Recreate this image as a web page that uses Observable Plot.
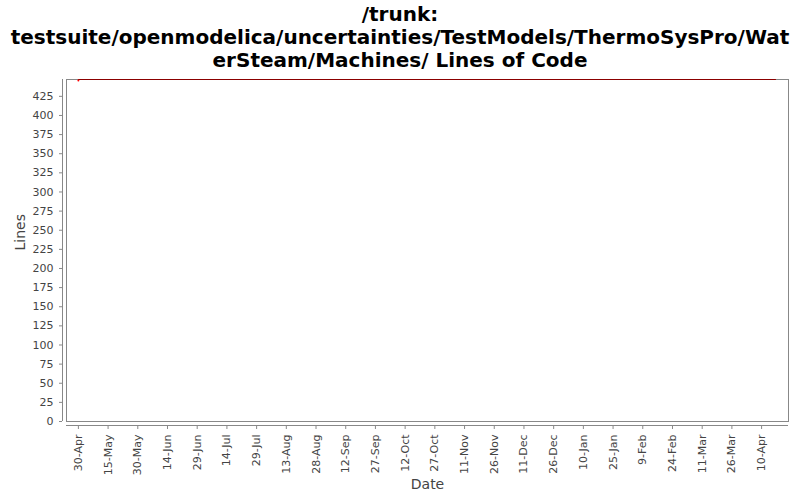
<!DOCTYPE html>
<html>
<head>
<meta charset="utf-8">
<script src="https://cdn.jsdelivr.net/npm/d3@7"></script>
<script src="https://cdn.jsdelivr.net/npm/@observablehq/plot@0.6"></script>
<style>
  body { margin: 0; background: #fff; width: 800px; height: 500px; overflow: hidden; }
  #title { font-family: "DejaVu Sans", sans-serif; font-weight: bold; font-size: 20px; line-height: 23px; text-align: center; color: #000; height: 72px; padding-top: 3px; box-sizing: border-box; white-space: nowrap; }
  #chart svg { display: block; }
</style>
</head>
<body>
<div id="title">/trunk:<br>testsuite/openmodelica/uncertainties/TestModels/ThermoSysPro/Wat<br>erSteam/Machines/ Lines of Code</div>
<div id="chart"></div>
<script>
const dates = ["2010-04-30", "2011-04-17"];
const lines = [447, 447];
const tickDates = ["2010-04-30","2010-05-15","2010-05-30","2010-06-14","2010-06-29","2010-07-14","2010-07-29","2010-08-13","2010-08-28","2010-09-12","2010-09-27","2010-10-12","2010-10-27","2010-11-11","2010-11-26","2010-12-11","2010-12-26","2011-01-10","2011-01-25","2011-02-09","2011-02-24","2011-03-11","2011-03-26","2011-04-10"];
const yTicks = d3.range(0, 426, 25);
const xDomain = ["2010-04-24", "2011-04-23T14:00"];
const yDomain = [0, 447];

const data = dates.map((d, i) => ({date: new Date(d), value: lines[i]}));
const fmt = d3.utcFormat("%-d-%b");

const plot = Plot.plot({
  width: 800,
  height: 428,
  marginLeft: 66,
  marginRight: 12,
  marginTop: 7,
  marginBottom: 79,
  style: {fontFamily: "DejaVu Sans, sans-serif", fontSize: "11px", color: "#444", background: "#fff"},
  x: {type: "utc", domain: xDomain.map(d => new Date(d))},
  y: {domain: yDomain},
  marks: [
    Plot.frame({stroke: "#888"}),
    Plot.ruleY([0], {y: () => 0, dy: 4, stroke: "#888"}),
    Plot.ruleX([0], {x: () => new Date(xDomain[0]), dx: -4, stroke: "#888"}),
    Plot.axisX({ticks: tickDates.map(d => new Date(d)), tickFormat: fmt, tickRotate: -90, tickSize: 4, dy: 4, stroke: "#888", fill: "#444", label: null, fontSize: 11}),
    Plot.axisY({ticks: yTicks, tickSize: 3, dx: -4, stroke: "#888", fill: "#444", label: null, fontSize: 11}),
    Plot.text(["Date"], {frameAnchor: "bottom", dy: 67, fontSize: 14, fill: "#444"}),
    Plot.text(["Lines"], {frameAnchor: "left", dx: -46, rotate: -90, fontSize: 14, fill: "#444"}),
    Plot.line(data, {x: "date", y: "value", stroke: "#8b0000", strokeWidth: 1.2}),
    Plot.dot(data.slice(0, 1), {x: "date", y: "value", r: 1, fill: "red", stroke: "none", dy: 1})
  ]
});
document.getElementById("chart").appendChild(plot);
</script>
</body>
</html>
